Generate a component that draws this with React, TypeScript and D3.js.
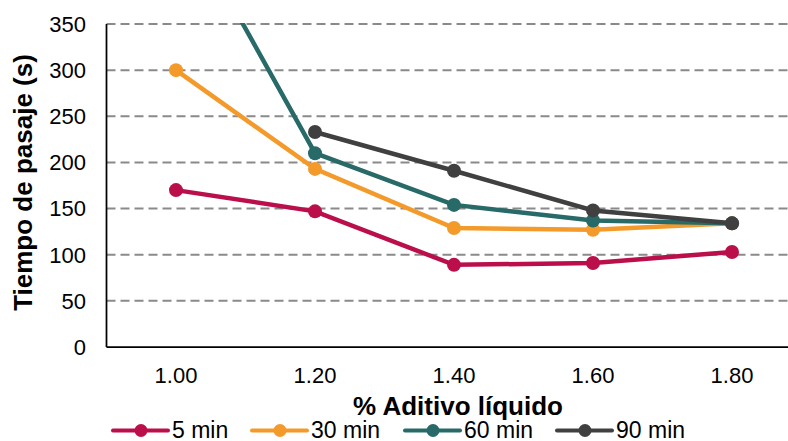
import React from "react";
import * as d3 from "d3";

const categories = ["1.00", "1.20", "1.40", "1.60", "1.80"];
const seriesNames = ["5 min", "30 min", "60 min", "90 min"];
const colors = ["#BA0F4B", "#F39A2A", "#276A68", "#404040"];
const min5: (number | null)[] = [170, 147, 89, 91, 103];
const min30: (number | null)[] = [300, 193, 129, 127, 134];
const min60: (number | null)[] = [480, 210, 154, 137, 134];
const min90: (number | null)[] = [null, 233, 191, 148, 134];
const yTicks = [0, 50, 100, 150, 200, 250, 300, 350];

const W = 788;
const H = 441;
const left = 106.5;
const top = 24;
const bottom = 347;
const band = 139;

export default function App() {
  const x = d3
    .scaleBand<string>()
    .domain(categories)
    .range([left, left + band * categories.length]);
  const y = d3.scaleLinear().domain([0, 350]).range([bottom, top]);
  const cx = (c: string) => (x(c) as number) + x.bandwidth() / 2;
  const all = [min5, min30, min60, min90];

  const line = d3
    .line<[string, number | null]>()
    .defined((d) => d[1] !== null)
    .x((d) => cx(d[0]))
    .y((d) => y(d[1] as number));

  const font = "'Liberation Sans', Arial, sans-serif";
  const legendX = [113, 252, 405, 557];

  return (
    <svg
      width={W}
      height={H}
      style={{ position: "absolute", left: 0, top: 0, fontFamily: font }}
    >
      <defs>
        <clipPath id="plot">
          <rect x={left} y={top - 1} width={W - left} height={bottom - top + 1} />
        </clipPath>
      </defs>
      {yTicks.slice(1).map((t) => (
        <line
          key={t}
          x1={left}
          x2={W}
          y1={y(t)}
          y2={y(t)}
          stroke="#8a8a8a"
          strokeWidth={2}
          strokeDasharray="9 5"
        />
      ))}
      {yTicks.map((t) => (
        <text
          key={t}
          x={86}
          y={y(t)}
          dy="0.36em"
          textAnchor="end"
          fontSize={22}
          fill="#000"
        >
          {t}
        </text>
      ))}
      {categories.map((c) => (
        <text key={c} x={cx(c)} y={383} textAnchor="middle" fontSize={22} fill="#000">
          {c}
        </text>
      ))}
      <g clipPath="url(#plot)">
        {all.map((s, i) => {
          const pts = categories.map((c, j) => [c, s[j]] as [string, number | null]);
          return (
            <g key={i}>
              <path d={line(pts) || ""} fill="none" stroke={colors[i]} strokeWidth={4.5} />
              {pts
                .filter((p) => p[1] !== null)
                .map((p) => (
                  <circle key={p[0]} cx={cx(p[0])} cy={y(p[1] as number)} r={7} fill={colors[i]} />
                ))}
            </g>
          );
        })}
      </g>
      <line x1={left} x2={left} y1={top} y2={bottom} stroke="#000" strokeWidth={1.75} />
      <line x1={left} x2={W} y1={bottom} y2={bottom} stroke="#000" strokeWidth={1.75} />
      <text
        transform={`translate(32,${(52 + 313) / 2}) rotate(-90)`}
        textAnchor="middle"
        fontSize={26}
        fontWeight="bold"
        fill="#000"
      >
        Tiempo de pasaje (s)
      </text>
      <text x={458} y={415} textAnchor="middle" fontSize={26} fontWeight="bold" fill="#000">
        % Aditivo líquido
      </text>
      {seriesNames.map((n, i) => (
        <g key={n}>
          <line
            x1={legendX[i]}
            x2={legendX[i] + 55}
            y1={430.5}
            y2={430.5}
            stroke={colors[i]}
            strokeWidth={4}
            strokeLinecap="round"
          />
          <circle cx={legendX[i] + 28} cy={430.5} r={6.5} fill={colors[i]} />
          <text x={legendX[i] + 59} y={438} fontSize={23} fill="#000">
            {n}
          </text>
        </g>
      ))}
    </svg>
  );
}
